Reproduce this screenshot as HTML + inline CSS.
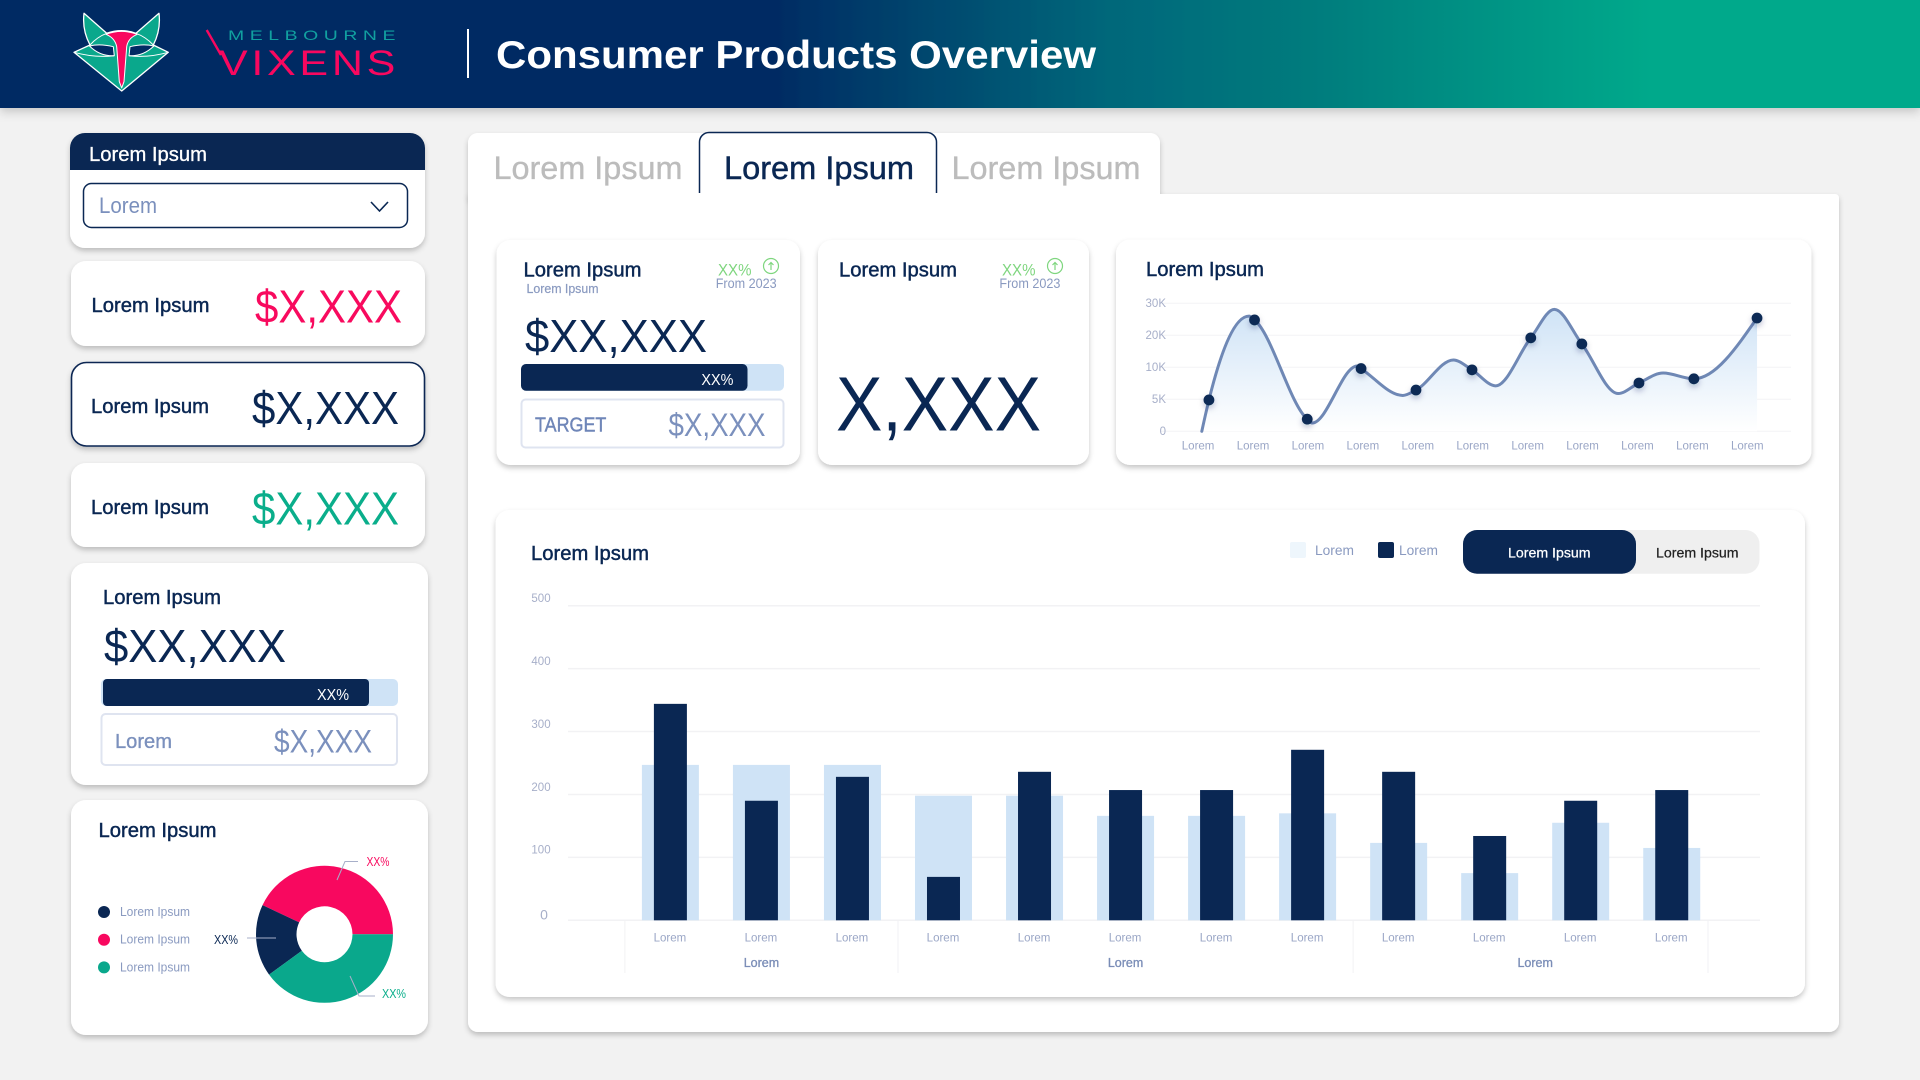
<!DOCTYPE html>
<html lang="en">
<head>
<meta charset="utf-8">
<title>Consumer Products Overview</title>
<style>
html,body{margin:0;padding:0;width:1920px;height:1080px;overflow:hidden;background:#f2f2f2}
svg{display:block}
text{font-family:"Liberation Sans",Arial,sans-serif}
.navy{fill:#0a2753}
.med{fill:#0a2753;stroke:#0a2753;stroke-width:.45}
.muted{fill:#8a9ac0}
.slate{fill:#7b90bd}
.lbl{font-size:20px}
.big{font-size:46px}
.mid{font-size:32px}
.up{fill:#7fd67f;font-size:17px}
.from{fill:#8a9ac0;font-size:13.5px}
.card{fill:#fff;filter:url(#card-shadow)}
.tab-off{fill:#bcbcbc;stroke:#bcbcbc;stroke-width:.35;font-size:32px}
</style>
</head>
<body>
<svg id="page" width="1920" height="1080" viewBox="0 0 1920 1080" xmlns="http://www.w3.org/2000/svg">
<defs>
<linearGradient id="header-gradient" x1="0" y1="0" x2="1" y2="0">
<stop offset="0" stop-color="#022a63"/><stop offset=".4" stop-color="#022a63"/><stop offset=".573" stop-color="#05667a"/><stop offset=".68" stop-color="#067b7d"/><stop offset=".86" stop-color="#06a98b"/><stop offset="1" stop-color="#06a98b"/>
</linearGradient>
<linearGradient id="area-gradient" gradientUnits="userSpaceOnUse" x1="0" y1="310" x2="0" y2="431">
<stop offset="0" stop-color="#cfe3f6"/><stop offset="1" stop-color="#ffffff"/>
</linearGradient>
<filter id="card-shadow" x="-10%" y="-10%" width="120%" height="125%"><feDropShadow dx="0" dy="3" stdDeviation="2.6" flood-color="#000" flood-opacity=".22"/></filter>
<filter id="header-shadow" x="-2%" y="-10%" width="104%" height="140%"><feDropShadow dx="0" dy="4" stdDeviation="5" flood-color="#000" flood-opacity=".18"/></filter>
<filter id="marker-shadow" x="-80%" y="-80%" width="260%" height="260%"><feDropShadow dx="0" dy="3" stdDeviation="3" flood-color="#0a2753" flood-opacity=".25"/></filter>
</defs>

<rect x="0" y="0" width="1920" height="1080" fill="#f2f2f2"/>

<!-- Header -->
<g>
<rect x="0" y="0" width="1920" height="108" fill="url(#header-gradient)" filter="url(#header-shadow)"/>
<g stroke-linejoin="round">
<path d="M84 13.3 L106.7 33.300 Q121.700 28 136 33.300 L159 13.300 Q161 30 153.300 45 L168.300 52.300 L121.700 91 L74 52.300 L90 45 Q82 30 84 13.300 Z" fill="#0aa88c" stroke="#fff" stroke-width="1.300"/>
<path d="M89.500 46 Q100 43.500 113.300 46.700 L114.300 55.700 Q100 56.500 89.500 46 Z" fill="#022a63" stroke="#fff" stroke-width="1"/>
<path d="M153.900 46 Q143 43.500 130 46.700 L129 55.700 Q143 56.500 153.900 46 Z" fill="#022a63" stroke="#fff" stroke-width="1"/>
<path d="M90 45 Q97 37 106.700 33.300 M153.300 45 Q146 37 136 33.300 M74 52.300 Q95 58 114.300 55.700 M168.300 52.300 Q148 58 129 55.700" fill="none" stroke="#fff" stroke-width="1"/>
<path d="M106 34.300 Q121.700 28.500 137.300 34.300 Q128 38 126.700 46.700 L124 81.700 L121.700 88 L119.300 81.700 L116.700 46.700 Q115 38 106 34.300 Z" fill="#f8085f" stroke="#fff" stroke-width="1"/>
</g>
<text x="228" y="40" font-size="14" fill="#11a0a0" letter-spacing="4" textLength="173" lengthAdjust="spacingAndGlyphs">MELBOURNE</text>
<text x="219" y="75" font-size="35" fill="#f8085f" letter-spacing="3" textLength="180" lengthAdjust="spacingAndGlyphs">VIXENS</text>
<line x1="206.700" y1="30" x2="221" y2="55" stroke="#f8085f" stroke-width="2.400"/>
<line x1="468" y1="29" x2="468" y2="78" stroke="#fff" stroke-width="2"/>
<text x="496" y="68" font-size="39" font-weight="700" fill="#fff" textLength="600" lengthAdjust="spacingAndGlyphs">Consumer Products Overview</text>
</g>

<!-- Sidebar -->
<g>
<rect class="card" x="70" y="133" width="355" height="115" rx="15"/>
<path d="M70 170 V148 a15 15 0 0 1 15 -15 H410 a15 15 0 0 1 15 15 V170 Z" fill="#0a2753"/>
<text x="89" y="161" class="lbl" fill="#fff" stroke="#fff" stroke-width=".3" textLength="118" lengthAdjust="spacingAndGlyphs">Lorem Ipsum</text>
<g>
<rect x="83.500" y="183.500" width="324" height="44" rx="8" fill="#fff" stroke="#0a2753" stroke-width="1.500"/>
<text x="99" y="213" font-size="22" class="slate" textLength="58" lengthAdjust="spacingAndGlyphs">Lorem</text>
<path d="M371 202 L379.500 211 L388 202" fill="none" stroke="#0a2753" stroke-width="1.600"/>
</g>
</g>

<g>
<rect class="card" x="71" y="261" width="354" height="85" rx="15"/>
<text x="91.500" y="312" class="lbl med" textLength="118" lengthAdjust="spacingAndGlyphs">Lorem Ipsum</text>
<text x="255" y="322.500" class="big" fill="#f80a5e" textLength="147" lengthAdjust="spacingAndGlyphs">$X,XXX</text>
</g>
<g>
<rect class="card" x="71.500" y="362.500" width="353" height="83.500" rx="15" stroke="#0a2753" stroke-width="1.600"/>
<text x="91" y="413" class="lbl med" textLength="118" lengthAdjust="spacingAndGlyphs">Lorem Ipsum</text>
<text x="252" y="424" class="big navy" textLength="147" lengthAdjust="spacingAndGlyphs">$X,XXX</text>
</g>
<g>
<rect class="card" x="71" y="463" width="354" height="84" rx="15"/>
<text x="91" y="514" class="lbl med" textLength="118" lengthAdjust="spacingAndGlyphs">Lorem Ipsum</text>
<text x="252" y="524.500" class="big" fill="#0aae8b" textLength="147" lengthAdjust="spacingAndGlyphs">$X,XXX</text>
</g>

<g>
<rect class="card" x="71" y="563" width="357" height="222" rx="15"/>
<text x="103" y="604" class="lbl med" textLength="118" lengthAdjust="spacingAndGlyphs">Lorem Ipsum</text>
<text x="104" y="662" class="big navy" textLength="182" lengthAdjust="spacingAndGlyphs">$XX,XXX</text>
<rect x="101" y="679" width="297" height="27" rx="5" fill="#cfe3f6"/>
<rect x="103" y="679" width="266" height="27" rx="4" fill="#0a2753"/>
<text x="317" y="700" font-size="16" fill="#fff" textLength="32" lengthAdjust="spacingAndGlyphs">XX%</text>
<rect x="101.500" y="714" width="295.500" height="51" rx="4" fill="#fff" stroke="#dfe4f0" stroke-width="2"/>
<text x="115" y="748" class="lbl slate" stroke="#7b90bd" stroke-width=".35" textLength="57" lengthAdjust="spacingAndGlyphs">Lorem</text>
<text x="274" y="752.500" class="mid slate" textLength="98" lengthAdjust="spacingAndGlyphs">$X,XXX</text>
</g>

<g id="donut-card">
<rect class="card" x="71" y="800" width="357" height="235" rx="15"/>
<text x="98.500" y="837" class="lbl med" textLength="118" lengthAdjust="spacingAndGlyphs">Lorem Ipsum</text>
<g id="donut-slices"></g>
<g id="donut-legend"></g>
<path d="M337 880 L345 861.500 H358" fill="none" stroke="#a7afc9" stroke-width="1"/>
<text x="366.500" y="866" font-size="12.500" fill="#f80a5e" textLength="23" lengthAdjust="spacingAndGlyphs">XX%</text>
<path d="M247 938 H276" fill="none" stroke="#a7afc9" stroke-width="1"/>
<text x="214" y="944" font-size="12.500" fill="#0a2753" textLength="24" lengthAdjust="spacingAndGlyphs">XX%</text>
<path d="M350 976 L359 996 H375" fill="none" stroke="#a7afc9" stroke-width="1"/>
<text x="382" y="998" font-size="12.500" fill="#0aae8b" textLength="24" lengthAdjust="spacingAndGlyphs">XX%</text>
</g>

<!-- Main panel -->
<g>
<rect class="card" x="468" y="133" width="692" height="70" rx="10"/>
<path class="card" d="M468 194 H1835 a4 4 0 0 1 4 4 V1022 a10 10 0 0 1 -10 10 H478 a10 10 0 0 1 -10 -10 Z"/>
<path d="M468 204 V143 a10 10 0 0 1 10 -10 H1150 a10 10 0 0 1 10 10 V204 Z" fill="#fff"/>
<text x="493.500" y="179" class="tab-off" textLength="189" lengthAdjust="spacingAndGlyphs">Lorem Ipsum</text>
<path d="M699.500 193 V142 a9.500 9.500 0 0 1 9.500 -9.500 H927 a9.500 9.500 0 0 1 9.500 9.500 V193" fill="#fff" stroke="#0a2753" stroke-width="1.500"/>
<text x="724" y="179" font-size="32" class="med" textLength="190" lengthAdjust="spacingAndGlyphs">Lorem Ipsum</text>
<text x="951.500" y="179" class="tab-off" textLength="189" lengthAdjust="spacingAndGlyphs">Lorem Ipsum</text>
</g>

<g>
<rect class="card" x="496.500" y="240" width="303.500" height="225" rx="14"/>
<text x="523.500" y="276.700" class="lbl med" textLength="118" lengthAdjust="spacingAndGlyphs">Lorem Ipsum</text>
<text x="526.500" y="293.200" font-size="12.500" class="muted" stroke="#8a9ac0" stroke-width=".2" textLength="72" lengthAdjust="spacingAndGlyphs">Lorem Ipsum</text>
<text x="718" y="275.500" class="up" textLength="33.500" lengthAdjust="spacingAndGlyphs">XX%</text>
<g fill="none" stroke="#7fd67f" stroke-width="1.200">
<circle cx="771" cy="266" r="7.500"/><path d="M771 270 V262.500 M768.500 265 L771 262.500 L773.500 265"/>
</g>
<text x="715.700" y="288" class="from" textLength="61" lengthAdjust="spacingAndGlyphs">From 2023</text>
<text x="525" y="352" class="big navy" textLength="182" lengthAdjust="spacingAndGlyphs">$XX,XXX</text>
<rect x="521" y="364" width="263" height="26.700" rx="5" fill="#cfe3f6"/>
<rect x="521" y="364" width="226.500" height="26.700" rx="5" fill="#0a2753"/>
<text x="701.400" y="385" font-size="16" fill="#fff" textLength="32" lengthAdjust="spacingAndGlyphs">XX%</text>
<rect x="521.500" y="399.500" width="262" height="48" rx="4" fill="#fff" stroke="#dfe4f0" stroke-width="2"/>
<text x="535" y="431.700" class="lbl" fill="#6f86b8" stroke="#6f86b8" stroke-width=".4" textLength="71.400" lengthAdjust="spacingAndGlyphs">TARGET</text>
<text x="668.500" y="436" class="mid slate" textLength="97" lengthAdjust="spacingAndGlyphs">$X,XXX</text>
</g>

<g>
<rect class="card" x="818" y="240" width="271" height="225" rx="14"/>
<text x="839" y="276.700" class="lbl med" textLength="118" lengthAdjust="spacingAndGlyphs">Lorem Ipsum</text>
<text x="1002" y="275.500" class="up" textLength="33.500" lengthAdjust="spacingAndGlyphs">XX%</text>
<g fill="none" stroke="#7fd67f" stroke-width="1.200">
<circle cx="1055" cy="266" r="7.500"/><path d="M1055 270 V262.500 M1052.500 265 L1055 262.500 L1057.500 265"/>
</g>
<text x="999.400" y="288" class="from" textLength="61" lengthAdjust="spacingAndGlyphs">From 2023</text>
<text x="836" y="430.700" font-size="77" class="navy" textLength="205" lengthAdjust="spacingAndGlyphs">X,XXX</text>
</g>

<g>
<rect class="card" x="1116" y="239.500" width="695.500" height="225.500" rx="14"/>
<text x="1146" y="276" class="lbl med" textLength="118" lengthAdjust="spacingAndGlyphs">Lorem Ipsum</text>
<g id="line-chart"></g>
</g>

<g>
<rect class="card" x="495.500" y="510" width="1309.500" height="487" rx="14"/>
<text x="531" y="560" class="lbl med" textLength="118" lengthAdjust="spacingAndGlyphs">Lorem Ipsum</text>
<g>
<rect x="1290" y="542" width="16" height="16" rx="2" fill="#eef6fc"/>
<text x="1315" y="555" font-size="14" class="muted" textLength="39" lengthAdjust="spacingAndGlyphs">Lorem</text>
<rect x="1378" y="542" width="16" height="16" rx="2" fill="#0a2753"/>
<text x="1399" y="555" font-size="14" class="muted" textLength="39" lengthAdjust="spacingAndGlyphs">Lorem</text>
</g>
<g>
<rect x="1463" y="530" width="296.500" height="43.700" rx="14" fill="#efefef"/>
<rect x="1463" y="530" width="173" height="43.700" rx="14" fill="#0a2753"/>
<text x="1508" y="557.500" font-size="14" fill="#fff" stroke="#fff" stroke-width=".25" textLength="82.600" lengthAdjust="spacingAndGlyphs">Lorem Ipsum</text>
<text x="1656" y="557.500" font-size="14" fill="#222" stroke="#222" stroke-width=".25" textLength="82.600" lengthAdjust="spacingAndGlyphs">Lorem Ipsum</text>
</g>
<g id="bar-chart"></g>
</g>
</svg>

<script>
// ---- Bar chart data ----
const barCategories = ['Lorem','Lorem','Lorem','Lorem','Lorem','Lorem','Lorem','Lorem','Lorem','Lorem','Lorem','Lorem'];
const barTargetValues = [247,247,247,198,198,166,166,170,123,75,155,115];
const barActualValues = [344,190,228,69,236,207,207,271,236,134,190,207];
const barTicks = [0,100,200,300,400,500];
const barGroupLabels = ['Lorem','Lorem','Lorem'];
const barGroupSizes = [3,5,4];

// ---- Line chart data (knots trace the curve, flagged knots carry a marker) ----
const lineCategories = ['Lorem','Lorem','Lorem','Lorem','Lorem','Lorem','Lorem','Lorem','Lorem','Lorem','Lorem'];
const lineTicks = [0,5,10,20,30];
const lineTickLabels = ['0','5K','10K','20K','30K'];
const linePeriods = [0.04,0.17,0.90,1.00,1.96,2.05,2.87,2.94,3.70,3.94,4.62,4.96,5.39,6.03,6.46,6.96,7.62,8.00,8.44,9.00,10.15];
const lineValues = [0,4.9,26,24.8,1.9,1.3,10.4,9.8,5.6,6.45,12.3,9.6,7.1,19.2,28.1,17.3,5.9,7.55,9.1,8.2,25.4];
const lineMarked = [0,1,0,1,1,0,0,1,0,1,0,1,0,1,0,1,0,1,0,1,1];

// ---- Donut data ----
const donutLabels = ['Lorem Ipsum','Lorem Ipsum','Lorem Ipsum'];
const donutValues = [43,17,40];
const donutLegendOrder = [1,0,2];

const SVG_NS = 'http://www.w3.org/2000/svg';
function make(tag, parent, attrs, txt) {
  const node = document.createElementNS(SVG_NS, tag);
  for (const k in attrs) node.setAttribute(k, attrs[k]);
  if (txt !== undefined) node.textContent = txt;
  parent.appendChild(node);
  return node;
}

// ---- Bar chart ----
(function () {
  const root = document.getElementById('bar-chart');
  const barX = i => 670.4 + 91.03 * i;
  const barY = v => 920.3 - v * 0.6292;
  const rightEdge = 1708;
  barTicks.forEach(function (t) {
    const grid = make('line', root, {x1:568, x2:1760, y1:barY(t), y2:barY(t), stroke:'#f2f2f4', 'stroke-width':1.5});
    
    
    const label = make('text', root, {x:t === 0 ? 544 : 541, y:t === 0 ? barY(t) - 1 : barY(t) - 3.7, 'text-anchor':'middle', 'font-size':t === 0 ? 14 : 11.5, fill:'#a7afc9'}, String(t));
    
    
  });
  barCategories.forEach(function (c, i) {
    const light = make('rect', root, {x:barX(i) - 28.5, y:barY(barTargetValues[i]), width:57, height:barY(0) - barY(barTargetValues[i]), fill:'#cfe3f6'});
    
    
  });
  barCategories.forEach(function (c, i) {
    const dark = make('rect', root, {x:barX(i) - 16.5, y:barY(barActualValues[i]), width:33, height:barY(0) - barY(barActualValues[i]), fill:'#0a2753'});
    
    
    const label = make('text', root, {x:barX(i) - 0.5, y:941.5, 'text-anchor':'middle', 'font-size':11.5, fill:'#9aa6c6'}, c);
    
    
  });
  let start = 0;
  const firstSep = make('line', root, {x1:barX(-0.5), x2:barX(-0.5), y1:921, y2:973, stroke:'#f2f2f4', 'stroke-width':1});
  
  
  barGroupLabels.forEach(function (g, i) {
    const end = start + barGroupSizes[i];
    const mid = barX((start + end - 1) / 2);
    const edge = Math.min(barX(end - 0.5), rightEdge);
    const sep = make('line', root, {x1:edge, x2:edge, y1:921, y2:973, stroke:'#f2f2f4', 'stroke-width':1});
    
    
    const label = make('text', root, {x:mid, y:967, 'text-anchor':'middle', 'font-size':12.5, fill:'#7a8db7', stroke:'#7a8db7', 'stroke-width':.3}, g);
    
    
    start = end;
  });
})();

// ---- Line chart ----
(function () {
  const root = document.getElementById('line-chart');
  const lineX = p => 1199.6 + p * 54.92;
  function lineY(v) {
    let i = 0;
    while (i < lineTicks.length - 2 && v > lineTicks[i + 1]) i++;
    return 431.3 - 32 * (i + (v - lineTicks[i]) / (lineTicks[i + 1] - lineTicks[i]));
  }
  lineTicks.forEach(function (t, i) {
    const grid = make('line', root, {x1:1160, x2:1791, y1:lineY(t), y2:lineY(t), stroke:'#f3f4f6', 'stroke-width':1});
    
    
    const label = make('text', root, {x:1166, y:lineY(t) + 3.5, 'text-anchor':'end', 'font-size':11.5, fill:'#a7afc9'}, lineTickLabels[i]);
    
    
  });
  lineCategories.forEach(function (c, i) {
    const label = make('text', root, {x:lineX(i) - 1.5, y:449.3, 'text-anchor':'middle', 'font-size':11.5, fill:'#9aa6c6'}, c);
    
    
  });
  const xs = linePeriods.map(lineX);
  const ys = lineValues.map(lineY);
  const n = xs.length;
  const slopes = [];
  for (let i = 0; i < n - 1; i++) slopes.push((ys[i + 1] - ys[i]) / (xs[i + 1] - xs[i]));
  const tangents = new Array(n);
  for (let i = 1; i < n - 1; i++) {
    const a = slopes[i - 1], b = slopes[i];
    if (a * b <= 0) { tangents[i] = 0; continue; }
    const h0 = xs[i] - xs[i - 1], h1 = xs[i + 1] - xs[i];
    const p = (a * h1 + b * h0) / (h0 + h1);
    tangents[i] = (Math.sign(a) + Math.sign(b)) * Math.min(Math.abs(a), Math.abs(b), 0.5 * Math.abs(p));
  }
  tangents[0] = (3 * slopes[0] - tangents[1]) / 2;
  tangents[n - 1] = (3 * slopes[n - 2] - tangents[n - 2]) / 2;
  let curve = 'M' + xs[0] + ' ' + ys[0];
  for (let i = 0; i < n - 1; i++) {
    const d = (xs[i + 1] - xs[i]) / 3;
    curve += ' C' + (xs[i] + d) + ' ' + (ys[i] + d * tangents[i]) + ' ' + (xs[i + 1] - d) + ' ' + (ys[i + 1] - d * tangents[i + 1]) + ' ' + xs[i + 1] + ' ' + ys[i + 1];
  }
  const area = make('path', root, {d:curve + ' L' + xs[n - 1] + ' ' + lineY(0) + ' L' + xs[0] + ' ' + lineY(0) + ' Z', fill:'url(#area-gradient)'});
  
  
  const stroke = make('path', root, {d:curve, fill:'none', stroke:'#6f88b5', 'stroke-width':3, 'stroke-linecap':'round'});
  
  
  lineMarked.forEach(function (m, i) {
    if (!m) return;
    const dot = make('circle', root, {cx:xs[i], cy:ys[i], r:5.4, fill:'#0a2b54', filter:'url(#marker-shadow)'});
    
    
  });
})();

// ---- Donut ----
(function () {
  const root = document.getElementById('donut-slices');
  const colors = ['#f8085f','#0a2753','#0aa88c'];
  const cx = 324.5, cy = 934.3, outer = 68.5, inner = 28;
  const total = donutValues.reduce((a, b) => a + b, 0);
  let angle = 0;
  donutValues.forEach(function (v, i) {
    const sweep = v / total * 2 * Math.PI;
    const a0 = angle, a1 = angle + sweep;
    const large = sweep > Math.PI ? 1 : 0;
    const px = (r, a) => cx + r * Math.cos(a);
    const py = (r, a) => cy - r * Math.sin(a);
    const d = 'M' + px(outer, a0) + ' ' + py(outer, a0) +
      ' A' + outer + ' ' + outer + ' 0 ' + large + ' 0 ' + px(outer, a1) + ' ' + py(outer, a1) +
      ' L' + px(inner, a1) + ' ' + py(inner, a1) +
      ' A' + inner + ' ' + inner + ' 0 ' + large + ' 1 ' + px(inner, a0) + ' ' + py(inner, a0) + ' Z';
    const slice = make('path', root, {d:d, fill:colors[i]});
    
    
    angle = a1;
  });
  const legend = document.getElementById('donut-legend');
  const rowY = r => 912 + r * 27.7;
  donutLegendOrder.forEach(function (s, r) {
    const dot = make('circle', legend, {cx:104, cy:rowY(r), r:6, fill:colors[s]});
    
    
    const label = make('text', legend, {x:120, y:rowY(r) + 4, 'font-size':12.5, fill:'#8a9ac0', textLength:70, lengthAdjust:'spacingAndGlyphs'}, donutLabels[s]);
    
    
  });
})();
</script>
</body>
</html>
